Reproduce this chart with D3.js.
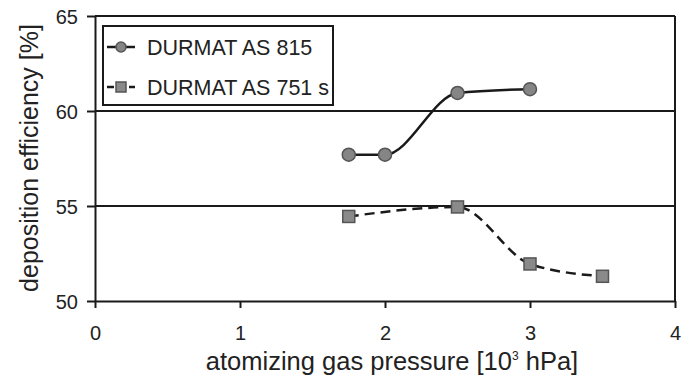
<!DOCTYPE html>
<html>
<head>
<meta charset="utf-8">
<script src="https://cdn.jsdelivr.net/npm/d3@7"></script>
<style>
  body { margin: 0; background: #fff; }
  svg { display: block; font-family: Arial, "Liberation Sans", sans-serif; }
</style>
</head>
<body>
<svg width="690" height="376"></svg>
<script>
// data
const pressure815 = [1.75, 2, 2.5, 3]
const efficiency815 = [57.7, 57.7, 60.95, 61.15]
const pressure751 = [1.75, 2.5, 3, 3.5]
const efficiency751 = [54.45, 54.95, 51.95, 51.3]
const seriesNames = ["DURMAT AS 815", "DURMAT AS 751 s"]
const xTicks = [0, 1, 2, 3, 4]
const yTicks = [50, 55, 60, 65]

const svg = d3.select("svg")
const x = d3.scaleLinear().domain([0, 4]).range([95, 675])
const y = d3.scaleLinear().domain([50, 65]).range([301, 16])
const ink = "#1a1a1a"

// gridlines at every y tick (65 is the top border)
svg.append("g").selectAll("line")
  .data(yTicks.filter(d => d > 50))
  .enter().append("line")
  .attr("x1", x(0)).attr("x2", x(4))
  .attr("y1", d => y(d)).attr("y2", d => y(d))
  .attr("stroke", ink).attr("stroke-width", 2)

// right border
svg.append("line")
  .attr("x1", x(4)).attr("x2", x(4))
  .attr("y1", y(65)).attr("y2", y(50))
  .attr("stroke", ink).attr("stroke-width", 2)

const yAxis = svg.append("g")
  .attr("transform", "translate(" + x(0) + ",0)")
  .call(d3.axisLeft(y).tickValues(yTicks).tickFormat(d3.format("d"))
    .tickSize(8).tickPadding(9).tickSizeOuter(0))
const xAxis = svg.append("g")
  .attr("transform", "translate(0," + y(50) + ")")
  .call(d3.axisBottom(x).tickValues(xTicks).tickFormat(d3.format("d"))
    .tickSize(7).tickPadding(22).tickSizeOuter(0))

;[yAxis, xAxis].forEach(ax => {
  ax.select(".domain").attr("stroke", ink).attr("stroke-width", 2)
  ax.selectAll(".tick line").attr("stroke", ink).attr("stroke-width", 2)
  ax.selectAll("text").attr("fill", "#222").style("font-size", "20px")
    .style("font-family", "Arial, 'Liberation Sans', sans-serif")
})
yAxis.selectAll("text").attr("dy", "0.36em")
xAxis.selectAll("text").attr("dy", "0.5em")

// axis titles
svg.append("text")
  .attr("transform", "translate(38,158) rotate(-90)")
  .attr("text-anchor", "middle")
  .style("font-size", "25px").attr("fill", "#222")
  .text("deposition efficiency [%]")

const xt = svg.append("text")
  .attr("x", 392).attr("y", 370)
  .attr("text-anchor", "middle")
  .style("font-size", "25.5px").attr("fill", "#222")
xt.append("tspan").text("atomizing gas pressure [10")
xt.append("tspan").attr("dy", -10).style("font-size", "12px").text("3")
xt.append("tspan").attr("dy", 10).text(" hPa]")

// smoothed lines
const line = d3.line()
  .x(d => x(d[0])).y(d => y(d[1]))
  .curve(d3.curveMonotoneX)

const pts815 = pressure815.map((p, i) => [p, efficiency815[i]])
const pts751 = pressure751.map((p, i) => [p, efficiency751[i]])

svg.append("path").datum(pts815)
  .attr("d", line).attr("fill", "none")
  .attr("stroke", ink).attr("stroke-width", 2.5)
svg.append("path").datum(pts751)
  .attr("d", line).attr("fill", "none")
  .attr("stroke", ink).attr("stroke-width", 2.5)
  .attr("stroke-dasharray", "10,6")

svg.append("g").selectAll("circle")
  .data(pts815).enter().append("circle")
  .attr("cx", d => x(d[0])).attr("cy", d => y(d[1])).attr("r", 6.5)
  .attr("fill", "#858585").attr("stroke", "#555").attr("stroke-width", 1.5)
svg.append("g").selectAll("rect")
  .data(pts751).enter().append("rect")
  .attr("x", d => x(d[0]) - 6).attr("y", d => y(d[1]) - 6)
  .attr("width", 12).attr("height", 12)
  .attr("fill", "#8a8a8a").attr("stroke", "#555").attr("stroke-width", 1.5)

// legend
const legend = svg.append("g")
legend.append("rect")
  .attr("x", 103).attr("y", 26).attr("width", 230).attr("height", 79)
  .attr("fill", "#fff").attr("stroke", ink).attr("stroke-width", 2)

seriesNames.forEach((name, i) => {
  const ly = 47 + i * 40
  legend.append("line")
    .attr("x1", 107).attr("x2", 135).attr("y1", ly).attr("y2", ly)
    .attr("stroke", ink).attr("stroke-width", 2.5)
    .attr("stroke-dasharray", i === 1 ? "7,4" : null)
  if (i === 0) {
    legend.append("circle").attr("cx", 121).attr("cy", ly).attr("r", 5)
      .attr("fill", "#858585").attr("stroke", "#555").attr("stroke-width", 1.5)
  } else {
    legend.append("rect").attr("x", 116).attr("y", ly - 5).attr("width", 10).attr("height", 10)
      .attr("fill", "#8a8a8a").attr("stroke", "#555").attr("stroke-width", 1.5)
  }
  legend.append("text")
    .attr("x", 147).attr("y", ly).attr("dy", "0.36em")
    .style("font-size", "21.5px").attr("fill", "#222")
    .text(name)
})
</script>
</body>
</html>
